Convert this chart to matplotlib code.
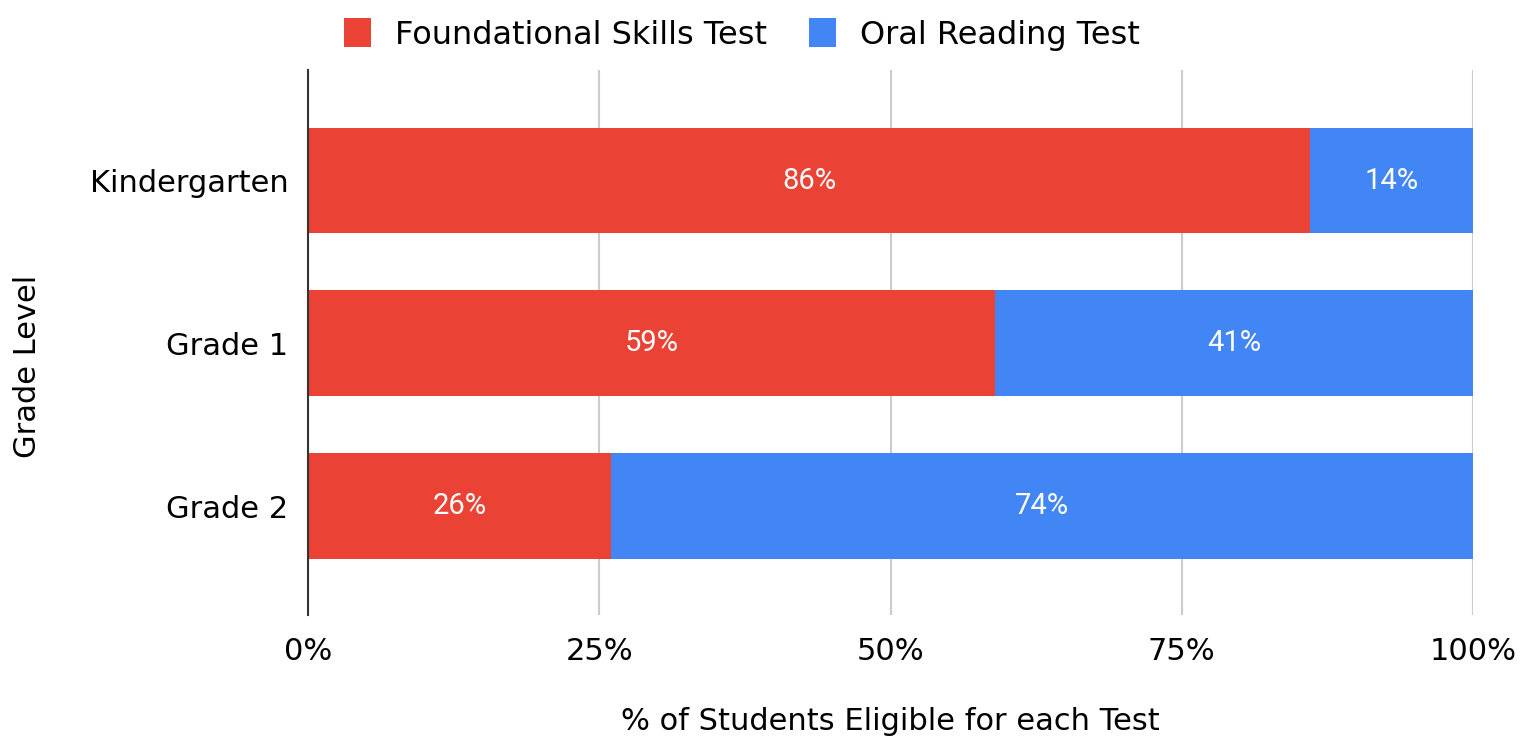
import matplotlib
matplotlib.use("Agg")
import matplotlib.pyplot as plt
from matplotlib.ticker import FuncFormatter

categories = ["Kindergarten", "Grade 1", "Grade 2"]
foundational = [86, 59, 26]
oral = [14, 41, 74]
series_names = ["Foundational Skills Test", "Oral Reading Test"]
xticks = [0, 25, 50, 75, 100]

red = "#EA4335"
blue = "#4285F4"

plt.rcParams["font.family"] = ["DejaVu Sans"]
FS = 22

fig = plt.figure(figsize=(15.33, 7.41), dpi=100)
ax = fig.add_axes([308/1533, 1-615/741, (1473-308)/1533, (615-70)/741])

y = list(range(len(categories)))
h = 0.65
b1 = ax.barh(y, foundational, height=h, color=red, label=series_names[0], zorder=3)
b2 = ax.barh(y, oral, left=foundational, height=h, color=blue, label=series_names[1], zorder=3)

for bars, vals, lefts in [(b1, foundational, [0]*3), (b2, oral, foundational)]:
    for yi, v, l in zip(y, vals, lefts):
        ax.text(l + v/2, yi, f"{v}%", ha="center", va="center", color="white",
                fontsize=21, family="Roboto", zorder=4)

ax.set_xlim(0, 100)
ax.set_ylim(2.67, -0.68)
ax.set_yticks(y)
ax.set_yticklabels(categories, fontsize=FS)
ax.set_xticks(xticks)
ax.xaxis.set_major_formatter(FuncFormatter(lambda v, p: f"{int(v)}%"))
ax.tick_params(axis="x", labelsize=FS, length=0, pad=16)
ax.tick_params(axis="y", length=0, pad=14)
ax.grid(axis="x", color="#cccccc", linewidth=1.5, zorder=0)
for s in ["top", "right", "bottom"]:
    ax.spines[s].set_visible(False)
ax.spines["left"].set_color("#333333")
ax.spines["left"].set_linewidth(1.5)
ax.spines["left"].set_zorder(5)

fig.text(890/1533, 1-722/741, "% of Students Eligible for each Test", fontsize=FS,
         ha="center", va="center")
fig.text(28/1533, 1-366/741, "Grade Level", fontsize=FS, rotation=90,
         ha="center", va="center")

fig.legend(handles=[b1, b2], labels=series_names, loc="upper center",
           bbox_to_anchor=(742/1533, 1.014), ncol=2, frameon=False, fontsize=23,
           handlelength=0.85, handleheight=1.0, columnspacing=1.3, handletextpad=0.75)

fig.savefig("out.png", dpi=100)
